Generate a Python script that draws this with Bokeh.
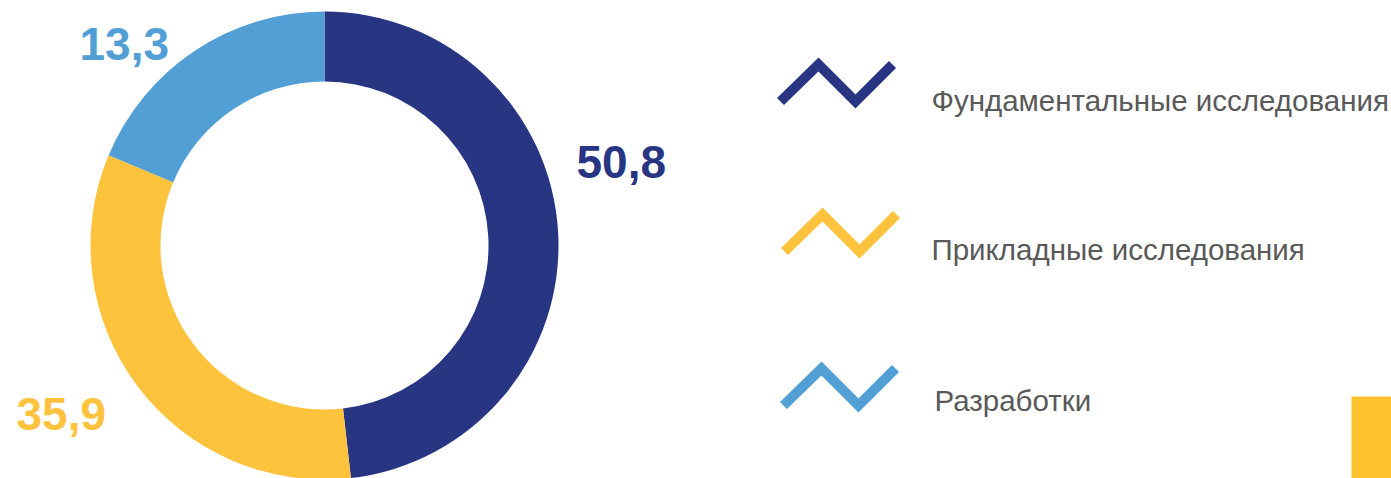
from bokeh.plotting import figure
from bokeh.models import Range1d, ColumnDataSource
from bokeh.core.properties import value
from bokeh.embed import file_html
from bokeh.resources import INLINE
import math

# ---- data ----
categories = ["Фундаментальные исследования", "Прикладные исследования", "Разработки"]
label_values = [50.8, 35.9, 13.3]          # values printed on the chart
arc_shares = [48.2, 33.1, 18.7]            # arc sizes as drawn in the picture (%)
colors = ["#283583", "#FEC33D", "#529FD6"]

# ---- layout (screen px of the 1391x478 picture) ----
W, H = 1391, 478
def sy(y):  # screen y -> data y
    return H - y

p = figure(width=W, height=H, output_backend="svg", toolbar_location=None,
           x_range=Range1d(0, W), y_range=Range1d(0, H),
           min_border=0, min_border_left=0, min_border_right=0,
           min_border_top=0, min_border_bottom=0)
p.axis.visible = False
p.grid.visible = False
p.outline_line_color = None
p.background_fill_color = "white"
p.border_fill_color = "white"

# donut
cx, cy = 324, sy(245)
r_out, r_in = 234, 164
starts, ends = [], []
acc = 0.0
total = sum(arc_shares)
for s in arc_shares:
    a0 = math.pi / 2 - 2 * math.pi * acc / total
    acc += s
    a1 = math.pi / 2 - 2 * math.pi * acc / total
    starts.append(a0)
    ends.append(a1)
src = ColumnDataSource(dict(x=[cx] * 3, y=[cy] * 3, start=starts, end=ends, color=colors))
p.annular_wedge(x="x", y="y", inner_radius=r_in, outer_radius=r_out,
                start_angle="start", end_angle="end", direction="clock",
                fill_color="color", line_color=None, source=src)

# value labels
lab_pos = [(576, 161), (16, 413), (79, 43)]
lab_txt = [("%.1f" % v).replace(".", ",") for v in label_values]
p.text(x=[q[0] for q in lab_pos], y=[sy(q[1]) for q in lab_pos], text=lab_txt,
       text_color=colors, text_font=value("Liberation Sans"), text_font_style="bold",
       text_font_size="46px", text_align="left", text_baseline="alphabetic")

# legend with zigzag markers
zig_dx = [0, 38, 75, 112]
zig_dy = [0, -37, 0, -37]
zig_anchor = [(780, 101), (784, 251), (783, 405)]
xs = [[a[0] + d for d in zig_dx] for a in zig_anchor]
ys = [[sy(a[1] + d) for d in zig_dy] for a in zig_anchor]
p.multi_line(xs=xs, ys=ys, line_color=colors, line_width=10,
             line_cap="butt", line_join="miter")

leg_pos = [(931, 100), (931, 249), (934, 400)]
p.text(x=[q[0] for q in leg_pos], y=[sy(q[1]) for q in leg_pos], text=categories,
       text_color="#595959", text_font=value("Liberation Sans"),
       text_font_size="29.5px", text_align="left", text_baseline="alphabetic")

# yellow corner tab
p.quad(left=[1351], right=[1400], bottom=[-10], top=[sy(396)],
       fill_color="#FEC130", line_color=None)

open("out.html", "w").write(file_html(p, INLINE))
